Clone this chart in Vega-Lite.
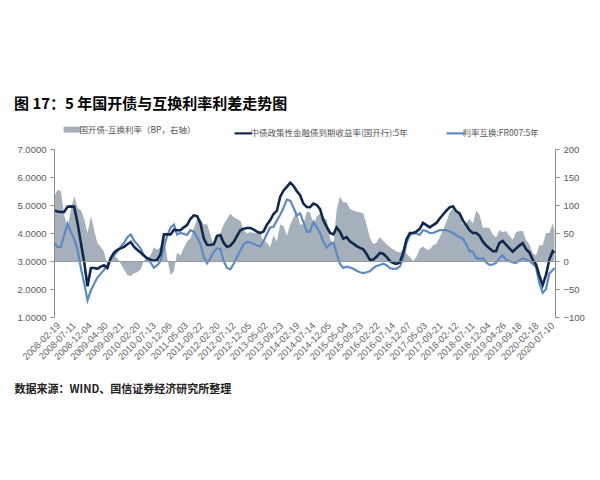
{
"$schema": "https://vega.github.io/schema/vega-lite/v6.json",
"width": 501, "height": 168,
"autosize": {"type": "none"},
"padding": {"left": 54, "top": 149, "right": 45, "bottom": 163},
"background": "white",
"config": {"view": {"stroke": null}, "font": "Liberation Sans"},
"title": {"text": "图 17：5 年国开债与互换利率利差走势图", "anchor": "start", "frame": "group", "dx": -40, "offset": 13, "font": "Noto Sans CJK SC", "fontSize": 15, "fontWeight": "bold", "color": "#000000"},
"data": {"values": [
{"d":"2008/02/15","n":4.80,"b":3.64,"s":116},
{"d":"2008/03/15","n":4.77,"b":3.50,"s":127},
{"d":"2008/04/15","n":4.75,"b":3.50,"s":125},
{"d":"2008/05/15","n":4.75,"b":3.93,"s":82},
{"d":"2008/06/15","n":4.94,"b":4.34,"s":60},
{"d":"2008/07/15","n":4.95,"b":4.05,"s":90},
{"d":"2008/08/15","n":4.94,"b":3.78,"s":116},
{"d":"2008/09/15","n":4.35,"b":3.40,"s":95},
{"d":"2008/10/15","n":3.65,"b":2.75,"s":90},
{"d":"2008/11/15","n":2.95,"b":2.20,"s":75},
{"d":"2008/12/15","n":2.10,"b":1.60,"s":50},
{"d":"2009/01/15","n":2.75,"b":1.95,"s":80},
{"d":"2009/02/15","n":2.75,"b":2.20,"s":55},
{"d":"2009/03/15","n":2.72,"b":2.40,"s":32},
{"d":"2009/04/15","n":2.80,"b":2.55,"s":25},
{"d":"2009/05/15","n":2.85,"b":2.68,"s":17},
{"d":"2009/06/15","n":2.75,"b":2.85,"s":-10},
{"d":"2009/07/15","n":3.10,"b":3.05,"s":5},
{"d":"2009/08/15","n":3.30,"b":3.20,"s":10},
{"d":"2009/09/15","n":3.40,"b":3.35,"s":5},
{"d":"2009/10/15","n":3.45,"b":3.50,"s":-5},
{"d":"2009/11/15","n":3.50,"b":3.65,"s":-15},
{"d":"2009/12/15","n":3.60,"b":3.85,"s":-25},
{"d":"2010/01/15","n":3.68,"b":3.95,"s":-27},
{"d":"2010/02/15","n":3.50,"b":3.72,"s":-22},
{"d":"2010/03/15","n":3.40,"b":3.60,"s":-20},
{"d":"2010/04/15","n":3.30,"b":3.45,"s":-15},
{"d":"2010/05/15","n":3.20,"b":3.20,"s":0},
{"d":"2010/06/15","n":3.10,"b":3.05,"s":5},
{"d":"2010/07/15","n":3.05,"b":2.95,"s":10},
{"d":"2010/08/15","n":3.00,"b":2.76,"s":24},
{"d":"2010/09/15","n":3.05,"b":2.85,"s":20},
{"d":"2010/10/15","n":3.25,"b":3.00,"s":25},
{"d":"2010/11/15","n":3.95,"b":3.50,"s":45},
{"d":"2010/12/15","n":3.95,"b":3.90,"s":5},
{"d":"2011/01/15","n":3.95,"b":4.20,"s":-25},
{"d":"2011/02/15","n":4.12,"b":4.30,"s":-18},
{"d":"2011/03/15","n":4.10,"b":3.95,"s":15},
{"d":"2011/04/15","n":4.10,"b":4.00,"s":10},
{"d":"2011/05/15","n":4.20,"b":3.97,"s":23},
{"d":"2011/06/15","n":4.28,"b":3.93,"s":35},
{"d":"2011/07/15","n":4.50,"b":4.10,"s":40},
{"d":"2011/08/15","n":4.63,"b":4.05,"s":58},
{"d":"2011/09/15","n":4.60,"b":3.85,"s":75},
{"d":"2011/10/15","n":4.35,"b":3.60,"s":75},
{"d":"2011/11/15","n":3.80,"b":3.15,"s":65},
{"d":"2011/12/15","n":3.58,"b":2.92,"s":66},
{"d":"2012/01/15","n":3.57,"b":3.10,"s":47},
{"d":"2012/02/15","n":3.60,"b":3.33,"s":27},
{"d":"2012/03/15","n":3.90,"b":3.45,"s":45},
{"d":"2012/04/15","n":3.92,"b":3.42,"s":50},
{"d":"2012/05/15","n":3.65,"b":3.00,"s":65},
{"d":"2012/06/15","n":3.50,"b":2.75,"s":75},
{"d":"2012/07/15","n":3.55,"b":2.70,"s":85},
{"d":"2012/08/15","n":3.68,"b":2.90,"s":78},
{"d":"2012/09/15","n":3.90,"b":3.15,"s":75},
{"d":"2012/10/15","n":4.10,"b":3.38,"s":72},
{"d":"2012/11/15","n":4.15,"b":3.60,"s":55},
{"d":"2012/12/15","n":4.18,"b":3.69,"s":49},
{"d":"2013/01/15","n":4.18,"b":3.66,"s":52},
{"d":"2013/02/15","n":4.12,"b":3.62,"s":50},
{"d":"2013/03/15","n":4.05,"b":3.55,"s":50},
{"d":"2013/04/15","n":4.00,"b":3.52,"s":48},
{"d":"2013/05/15","n":4.05,"b":3.70,"s":35},
{"d":"2013/06/15","n":4.30,"b":3.97,"s":33},
{"d":"2013/07/15","n":4.45,"b":4.20,"s":25},
{"d":"2013/08/15","n":4.68,"b":4.22,"s":46},
{"d":"2013/09/15","n":4.80,"b":4.45,"s":35},
{"d":"2013/10/15","n":5.30,"b":4.65,"s":65},
{"d":"2013/11/15","n":5.52,"b":4.90,"s":62},
{"d":"2013/12/15","n":5.65,"b":5.20,"s":45},
{"d":"2014/01/15","n":5.80,"b":5.15,"s":65},
{"d":"2014/02/15","n":5.68,"b":4.90,"s":78},
{"d":"2014/03/15","n":5.50,"b":4.62,"s":88},
{"d":"2014/04/15","n":5.35,"b":4.70,"s":65},
{"d":"2014/05/15","n":5.05,"b":4.40,"s":65},
{"d":"2014/06/15","n":4.93,"b":4.05,"s":88},
{"d":"2014/07/15","n":4.92,"b":4.05,"s":87},
{"d":"2014/08/15","n":5.05,"b":4.40,"s":65},
{"d":"2014/09/15","n":5.00,"b":4.20,"s":80},
{"d":"2014/10/15","n":4.85,"b":4.00,"s":85},
{"d":"2014/11/15","n":4.45,"b":3.68,"s":77},
{"d":"2014/12/15","n":4.22,"b":3.48,"s":74},
{"d":"2015/01/15","n":4.00,"b":3.60,"s":40},
{"d":"2015/02/15","n":3.95,"b":3.65,"s":30},
{"d":"2015/03/15","n":4.20,"b":3.30,"s":90},
{"d":"2015/04/15","n":4.05,"b":2.90,"s":115},
{"d":"2015/05/15","n":3.80,"b":2.75,"s":105},
{"d":"2015/06/15","n":3.85,"b":2.80,"s":105},
{"d":"2015/07/15","n":3.70,"b":2.77,"s":93},
{"d":"2015/08/15","n":3.62,"b":2.72,"s":90},
{"d":"2015/09/15","n":3.53,"b":2.65,"s":88},
{"d":"2015/10/15","n":3.47,"b":2.60,"s":87},
{"d":"2015/11/15","n":3.42,"b":2.57,"s":85},
{"d":"2015/12/15","n":3.25,"b":2.60,"s":65},
{"d":"2016/01/15","n":3.04,"b":2.63,"s":41},
{"d":"2016/02/15","n":3.05,"b":2.75,"s":30},
{"d":"2016/03/15","n":3.15,"b":2.82,"s":33},
{"d":"2016/04/15","n":3.29,"b":2.86,"s":43},
{"d":"2016/05/15","n":3.26,"b":2.90,"s":36},
{"d":"2016/06/15","n":3.15,"b":2.85,"s":30},
{"d":"2016/07/15","n":3.00,"b":2.75,"s":25},
{"d":"2016/08/15","n":2.93,"b":2.72,"s":21},
{"d":"2016/09/15","n":2.90,"b":2.73,"s":17},
{"d":"2016/10/15","n":2.95,"b":2.80,"s":15},
{"d":"2016/11/15","n":3.30,"b":3.10,"s":20},
{"d":"2016/12/15","n":3.78,"b":3.65,"s":13},
{"d":"2017/01/15","n":4.00,"b":3.93,"s":7},
{"d":"2017/02/15","n":4.00,"b":4.00,"s":0},
{"d":"2017/03/15","n":4.05,"b":3.98,"s":7},
{"d":"2017/04/15","n":4.15,"b":3.93,"s":22},
{"d":"2017/05/15","n":4.36,"b":4.10,"s":26},
{"d":"2017/06/15","n":4.28,"b":4.07,"s":21},
{"d":"2017/07/15","n":4.20,"b":4.00,"s":20},
{"d":"2017/08/15","n":4.28,"b":4.00,"s":28},
{"d":"2017/09/15","n":4.36,"b":4.05,"s":31},
{"d":"2017/10/15","n":4.52,"b":4.10,"s":42},
{"d":"2017/11/15","n":4.66,"b":4.10,"s":56},
{"d":"2017/12/15","n":4.80,"b":4.10,"s":70},
{"d":"2018/01/15","n":4.92,"b":4.05,"s":87},
{"d":"2018/02/15","n":4.95,"b":4.00,"s":95},
{"d":"2018/03/15","n":4.78,"b":3.92,"s":86},
{"d":"2018/04/15","n":4.70,"b":3.85,"s":85},
{"d":"2018/05/15","n":4.45,"b":3.80,"s":65},
{"d":"2018/06/15","n":4.28,"b":3.60,"s":68},
{"d":"2018/07/15","n":4.10,"b":3.35,"s":75},
{"d":"2018/08/15","n":4.00,"b":3.33,"s":67},
{"d":"2018/09/15","n":4.00,"b":3.10,"s":90},
{"d":"2018/10/15","n":3.90,"b":3.08,"s":82},
{"d":"2018/11/15","n":3.69,"b":3.10,"s":59},
{"d":"2018/12/15","n":3.55,"b":2.95,"s":60},
{"d":"2019/01/15","n":3.45,"b":2.86,"s":59},
{"d":"2019/02/15","n":3.35,"b":2.88,"s":47},
{"d":"2019/03/15","n":3.35,"b":2.93,"s":42},
{"d":"2019/04/15","n":3.65,"b":3.10,"s":55},
{"d":"2019/05/15","n":3.72,"b":3.20,"s":52},
{"d":"2019/06/15","n":3.58,"b":3.05,"s":53},
{"d":"2019/07/15","n":3.45,"b":3.00,"s":45},
{"d":"2019/08/15","n":3.33,"b":2.95,"s":38},
{"d":"2019/09/15","n":3.45,"b":2.93,"s":52},
{"d":"2019/10/15","n":3.55,"b":3.02,"s":53},
{"d":"2019/11/15","n":3.64,"b":3.10,"s":54},
{"d":"2019/12/15","n":3.42,"b":3.05,"s":37},
{"d":"2020/01/15","n":3.30,"b":3.00,"s":30},
{"d":"2020/02/15","n":3.04,"b":2.90,"s":14},
{"d":"2020/03/15","n":2.88,"b":2.78,"s":10},
{"d":"2020/04/15","n":2.48,"b":2.20,"s":28},
{"d":"2020/05/15","n":2.14,"b":1.86,"s":28},
{"d":"2020/06/15","n":2.50,"b":2.00,"s":50},
{"d":"2020/07/15","n":3.05,"b":2.55,"s":50},
{"d":"2020/08/15","n":3.35,"b":2.68,"s":67},
{"d":"2020/08/31","n":3.29,"b":2.75,"s":54}
]},
"encoding": {
 "x": {"field": "d", "type": "temporal",
   "scale": {"domain": [{"year":2008,"month":2,"date":12},{"year":2020,"month":9,"date":5}]},
   "axis": {"values": [
     {"year":2008,"month":2,"date":19},{"year":2008,"month":7,"date":11},{"year":2008,"month":12,"date":4},
     {"year":2009,"month":4,"date":30},{"year":2009,"month":9,"date":21},{"year":2010,"month":2,"date":20},
     {"year":2010,"month":7,"date":13},{"year":2010,"month":12,"date":6},{"year":2011,"month":5,"date":3},
     {"year":2011,"month":9,"date":22},{"year":2012,"month":2,"date":20},{"year":2012,"month":7,"date":12},
     {"year":2012,"month":12,"date":5},{"year":2013,"month":5,"date":2},{"year":2013,"month":9,"date":23},
     {"year":2014,"month":2,"date":19},{"year":2014,"month":7,"date":14},{"year":2014,"month":12,"date":5},
     {"year":2015,"month":5,"date":4},{"year":2015,"month":9,"date":23},{"year":2016,"month":2,"date":22},
     {"year":2016,"month":7,"date":14},{"year":2016,"month":12,"date":7},{"year":2017,"month":5,"date":3},
     {"year":2017,"month":9,"date":21},{"year":2018,"month":2,"date":12},{"year":2018,"month":7,"date":11},
     {"year":2018,"month":12,"date":4},{"year":2019,"month":4,"date":26},{"year":2019,"month":9,"date":18},
     {"year":2020,"month":2,"date":18},{"year":2020,"month":7,"date":10}],
     "format": "%Y-%m-%d", "labelAngle": -45, "labelFontSize": 9.5, "labelColor": "#666666",
     "labelPadding": 3, "ticks": false, "domain": false, "grid": false, "labelOverlap": false, "labelBound": false,
     "title": "数据来源：WIND、国信证券经济研究所整理", "titleAnchor": "start", "titleAlign": "left",
     "titleX": -40, "titleY": 72, "titleBaseline": "middle", "titleFont": "Noto Sans CJK SC",
     "titleFontSize": 11, "titleFontWeight": "bold", "titleColor": "#222222"}}
},
"layer": [
 {
  "mark": {"type": "area", "color": "#a6b0ba"},
  "encoding": {
   "y": {"field": "s", "type": "quantitative",
     "scale": {"domain": [-100, 200], "nice": false},
     "axis": {"orient": "right", "values": [-100,-50,0,50,100,150,200], "title": null, "grid": false,
       "labelFontSize": 9.5, "labelColor": "#595959", "domainColor": "#8c8c8c", "tickColor": "#8c8c8c", "tickSize": 4, "labelPadding": 4}},
   "color": {"datum": "国开债-互换利率（BP，右轴）", "type": "nominal",
     "scale": {"domain": ["国开债-互换利率（BP，右轴）", "中债政策性金融债到期收益率(国开行):5年", "利率互换:FR007:5年"],
               "range": ["#a6b0ba", "#10284e", "#5b89c8"]},
     "legend": {"orient": "none", "legendX": 14, "legendY": -24, "direction": "horizontal", "title": null,
       "symbolType": "stroke", "symbolSize": 300, "labelFontSize": 8.5, "labelFont": "Noto Sans CJK SC",
       "labelColor": "#555555", "columnPadding": 34, "labelOffset": 3, "labelLimit": 400,
       "encode": {"symbols": {"update": {
          "stroke": {"scale": "color", "field": "value"},
          "strokeWidth": {"signal": "datum.value === '国开债-互换利率（BP，右轴）' ? 6 : 2.2"},
          "fill": {"value": "transparent"}}}}}}
  }
 },
 {
  "layer": [
   {"mark": {"type": "line", "strokeWidth": 2.2},
    "encoding": {"y": {"field": "b", "type": "quantitative"},
      "color": {"datum": "利率互换:FR007:5年", "type": "nominal"}}},
   {"mark": {"type": "line", "strokeWidth": 2.6},
    "encoding": {"y": {"field": "n", "type": "quantitative"},
      "color": {"datum": "中债政策性金融债到期收益率(国开行):5年", "type": "nominal"}}}
  ],
  "encoding": {
   "y": {"type": "quantitative",
     "scale": {"domain": [1, 7], "nice": false},
     "axis": {"orient": "left", "values": [1,2,3,4,5,6,7], "format": ".4f", "title": null,
       "grid": true, "gridColor": "#999999", "gridOpacity": {"condition": {"test": "datum.value === 3", "value": 1}, "value": 0},
       "zindex": 1,
       "labelFontSize": 9.5, "labelColor": "#595959", "domainColor": "#8c8c8c", "tickColor": "#8c8c8c", "tickSize": 4, "labelPadding": 4}}
  }
 }
],
"resolve": {"scale": {"y": "independent"}}
}
